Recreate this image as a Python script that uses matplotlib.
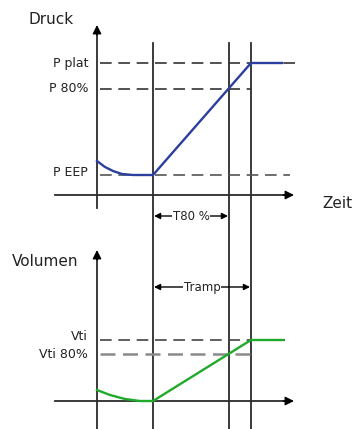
import numpy as np
import matplotlib
matplotlib.use("Agg")
import matplotlib.pyplot as plt

# schematic data (time relative to y-axis, levels relative to time axis)
t_marks = [56, 132, 154]          # start of ramp, T80 %, end of ramp (Tramp)
p_levels = {"P plat": 132, "P 80%": 106, "P EEP": 20}
v_levels = {"Vti": 61, "Vti 80%": 47}

p_t = [0, 8, 16, 25, 36, 56, 154, 185]
p_val = [34, 28, 24, 21, 20, 20, 132, 132]

v_t = [0, 13, 28, 43, 56, 154, 186]
v_val = [11, 6, 2, 0, 0, 61, 61]

# layout (figure pixels, y upwards)
P_BASE = 234
V_BASE = 28
ink = "#2b2b2b"

fig = plt.figure(figsize=(3.55, 4.29), dpi=100)
ax = fig.add_axes([0, 0, 1, 1])
ax.set_xlim(-97, 258)
ax.set_ylim(0, 429)
ax.axis("off")

# vertical time markers running through both panels
for t in t_marks:
    ax.plot([t, t], [0, 386], color=ink, lw=1.3)

def panel(base, top, bottom):
    # y axis with arrow
    ax.plot([0, 0], [bottom, top - 8], color=ink, lw=1.3)
    ax.annotate("", xy=(0, top), xytext=(0, top - 10),
                arrowprops=dict(arrowstyle="-|>", color="black", lw=1.0,
                                mutation_scale=13, shrinkA=0, shrinkB=0))
    # time axis with arrow
    ax.plot([-42, 188], [base, base], color=ink, lw=1.3)
    ax.annotate("", xy=(197, base), xytext=(186, base),
                arrowprops=dict(arrowstyle="-|>", color="black", lw=1.0,
                                mutation_scale=13, shrinkA=0, shrinkB=0))

panel(P_BASE, 404, 221)
panel(V_BASE, 179, 0)

dash = dict(lw=1.2, dashes=(7, 4))
ax.plot([3, 198], [P_BASE + p_levels["P plat"]] * 2, color="#333333", **dash)
ax.plot([3, t_marks[2]], [P_BASE + p_levels["P 80%"]] * 2, color="#333333", **dash)
ax.plot([3, 193], [P_BASE + p_levels["P EEP"]] * 2, color="#555555", **dash)
ax.plot([3, 188], [V_BASE + v_levels["Vti"]] * 2, color="#444444", **dash)
ax.plot([3, t_marks[2]], [V_BASE + v_levels["Vti 80%"]] * 2, color="#8a8a8a",
        lw=1.8, dashes=(6, 3))

# curves
ax.plot(p_t, np.array(p_val) + P_BASE, color="#2b3fa0", lw=1.7)
ax.plot(v_t, np.array(v_val) + V_BASE, color="#1faa2a", lw=1.7)

# level labels
fs = 9
for name, lv in p_levels.items():
    dy = 2 if name == "P EEP" else 0
    ax.text(-9, P_BASE + lv + dy, name, ha="right", va="center", fontsize=fs,
            color="#222222")
ax.text(-9, V_BASE + v_levels["Vti"] + 4, "Vti", ha="right", va="center",
        fontsize=fs, color="#222222")
ax.text(-9, V_BASE + v_levels["Vti 80%"], "Vti 80%", ha="right", va="center",
        fontsize=fs, color="#222222")

# axis titles
ax.text(-69, 409, "Druck", ha="left", va="center", fontsize=11, color="#222222")
ax.text(225, 226, "Zeit", ha="left", va="center", fontsize=11, color="#222222")
ax.text(-85, 167, "Volumen", ha="left", va="center", fontsize=11, color="#222222")

# time span annotations
def span(t0, t1, y, label):
    ax.annotate("", xy=(t0 + 1, y), xytext=(t1 - 1, y),
                arrowprops=dict(arrowstyle="<|-|>", color="black", lw=1.0,
                                mutation_scale=9, shrinkA=0, shrinkB=0))
    ax.text((t0 + t1) / 2, y, label, ha="center", va="center", fontsize=8.5,
            color="#222222", bbox=dict(fc="white", ec="none", pad=0.5))

span(t_marks[0], t_marks[1], 213, "T80 %")
span(t_marks[0], t_marks[2], 142, "Tramp")

fig.savefig("out.png", dpi=100)
